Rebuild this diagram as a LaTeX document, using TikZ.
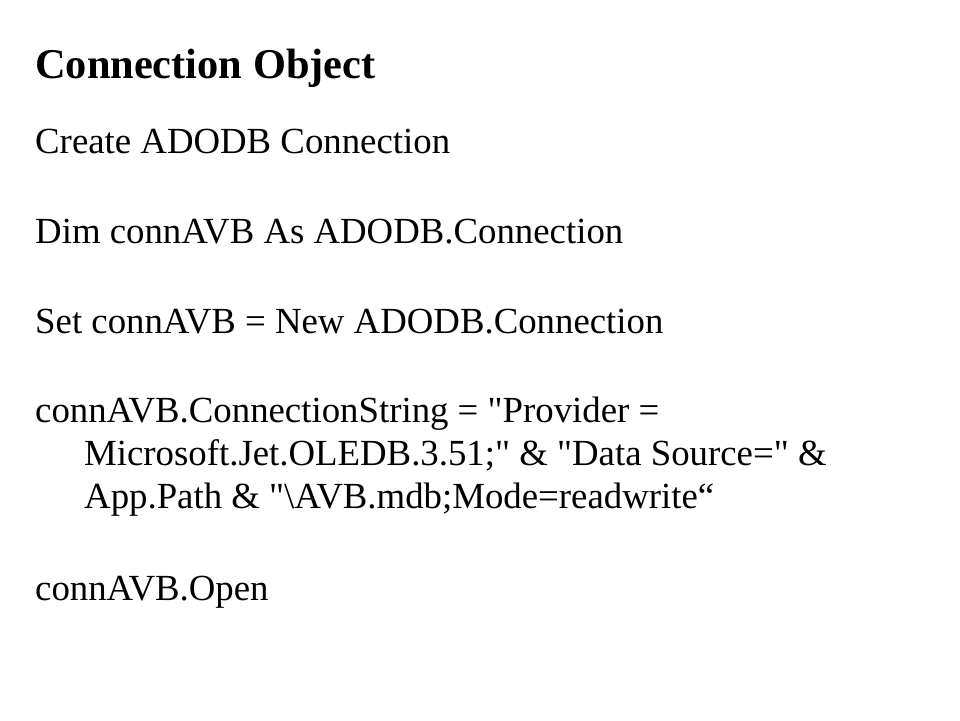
\documentclass[tikz,border=0pt]{standalone}
\usepackage{fontspec}
\setmainfont{Liberation Serif}[Ligatures=TeXOff]
\begin{document}
\begin{tikzpicture}[x=1pt,y=-1pt,
  body/.style={anchor=base west,inner sep=0pt,font=\fontsize{36.8}{43}\selectfont},
  title/.style={anchor=base west,inner sep=0pt,font=\fontsize{42.4}{50}\selectfont\bfseries}]
\useasboundingbox[fill=white] (0,0) rectangle (960,720);
\node[title] (t) at (35,78) {Connection Object};
\node[body] (l1) at (35,153) {Create ADODB Connection};
\node[body] (l2) at (35,243) {Dim connAVB As ADODB.Connection};
\node[body] (l3) at (35,333) {Set connAVB = New ADODB.Connection};
\node[body] (l4) at (35,422) {connAVB.ConnectionString = "Provider =};
\node[body] (l5) at (84,465) {Microsoft.Jet.OLEDB.3.51;" \& "Data Source=" \&};
\node[body] (l6) at (84,508) {App.Path \& "\textbackslash AVB.mdb;Mode=readwrite“};
\node[body] (l7) at (35,600) {connAVB.Open};
\end{tikzpicture}
\end{document}
